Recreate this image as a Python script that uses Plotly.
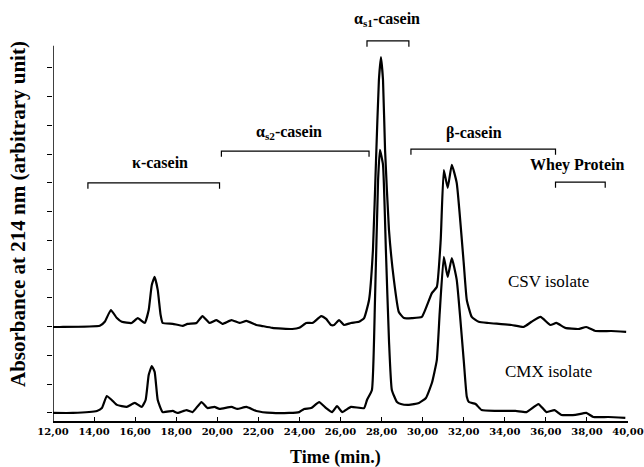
import plotly.graph_objects as go

# Retention time (min) and absorbance (arbitrary units, as plotted with vertical offset)
csv_time = [12.0, 12.34, 14.28, 14.52, 14.82, 15.11, 15.35, 15.83, 16.13, 16.47, 16.66, 16.81, 16.95,
            17.10, 17.24, 17.34, 17.83, 18.31, 18.55, 18.99, 19.28, 19.62, 19.96, 20.25, 20.69, 21.08,
            21.42, 21.90, 22.15, 22.68, 23.65, 23.99, 24.33, 24.62, 24.72, 25.06, 25.30, 25.54, 25.69,
            25.93, 26.17, 26.51, 26.90, 27.15, 27.39, 27.58, 27.73, 27.87, 27.97, 28.07, 28.17, 28.36,
            28.60, 28.84, 29.09, 29.48, 29.96, 30.45, 30.69, 30.88, 31.03, 31.22, 31.42, 31.66, 32.00,
            32.15, 32.39, 32.73, 33.21, 34.33, 34.91, 35.30, 35.74, 36.22, 36.51, 36.95, 37.58, 37.97,
            38.41, 39.18, 39.91]
csv_abs = [2.99, 2.99, 3.03, 3.17, 3.58, 3.30, 3.17, 3.13, 3.30, 3.13, 3.58, 4.45, 4.73,
           4.28, 3.41, 3.13, 3.10, 3.03, 3.10, 3.13, 3.37, 3.13, 3.23, 3.10, 3.23, 3.13,
           3.20, 3.06, 3.03, 2.96, 2.92, 2.96, 3.13, 3.13, 3.17, 3.37, 3.27, 3.06, 3.06,
           3.23, 3.06, 3.13, 3.17, 3.30, 3.93, 5.67, 8.80, 11.58, 12.38, 11.58, 9.15, 6.37,
           4.63, 3.51, 3.30, 3.30, 3.34, 4.17, 4.38, 6.02, 8.45, 7.83, 8.63, 8.00, 5.22,
           3.93, 3.34, 3.17, 3.13, 3.06, 2.99, 3.17, 3.34, 3.06, 3.13, 2.96, 2.92, 2.99,
           2.85, 2.85, 2.82]

cmx_time = [12.0, 12.97, 14.14, 14.38, 14.62, 14.86, 15.11, 15.59, 15.98, 16.32, 16.51, 16.66, 16.81,
            16.95, 17.10, 17.34, 17.83, 18.07, 18.50, 18.80, 19.23, 19.52, 19.86, 20.11, 20.69, 20.98,
            21.42, 21.90, 22.68, 23.50, 23.99, 24.23, 24.57, 24.96, 25.30, 25.59, 25.83, 26.08, 26.51,
            27.15, 27.29, 27.53, 27.68, 27.83, 27.92, 28.07, 28.21, 28.36, 28.50, 28.75, 28.94, 29.33,
            29.82, 30.16, 30.45, 30.69, 30.83, 31.03, 31.22, 31.42, 31.66, 32.00, 32.15, 32.25, 32.58,
            32.87, 33.55, 34.52, 35.06, 35.64, 36.03, 36.42, 36.76, 37.44, 37.97, 38.31, 39.04, 39.87]
cmx_abs = [0.0, 0.0, 0.07, 0.17, 0.59, 0.45, 0.28, 0.21, 0.35, 0.21, 0.45, 1.32, 1.63,
           1.43, 0.45, 0.03, 0.07, 0.0, 0.10, 0.03, 0.38, 0.17, 0.21, 0.14, 0.21, 0.14,
           0.21, 0.07, 0.0, 0.0, 0.03, 0.14, 0.17, 0.38, 0.17, 0.03, 0.24, 0.03, 0.21,
           0.17, 0.45, 0.80, 3.93, 8.10, 9.15, 8.63, 5.67, 2.54, 0.80, 0.38, 0.31, 0.28,
           0.35, 0.52, 1.04, 1.84, 3.48, 5.43, 4.73, 5.39, 4.63, 1.84, 0.56, 0.38, 0.31,
           0.10, 0.07, 0.07, 0.03, 0.31, 0.03, 0.10, -0.07, -0.07, 0.0, -0.14, -0.14, -0.17]

x_tick_vals = [12, 14, 16, 18, 20, 22, 24, 26, 28, 30, 32, 34, 36, 38, 40]
x_tick_text = ["12,00", "14,00", "16,00", "18,00", "20,00", "22,00", "24,00", "26,00",
               "28,00", "30,00", "32,00", "34,00", "36,00", "38,00", "40,00"]
y_tick_vals = list(range(0, 13))

# Protein-fraction labels: text, text position, bracket start/end time, bracket level
fraction_labels = ["κ-casein", "α<sub>s2</sub>-casein", "α<sub>s1</sub>-casein", "β-casein", "Whey Protein"]
label_x = [17.19, 23.50, 28.26, 32.49, 37.53]
label_y = [8.70, 9.74, 13.70, 9.74, 8.63]
bracket_x0 = [13.70, 20.20, 27.29, 29.43, 36.47]
bracket_x1 = [20.11, 27.39, 29.33, 36.47, 38.89]
bracket_y = [8.00, 9.11, 12.94, 9.18, 8.03]
bracket_drop = 0.2

sample_labels = ["CSV isolate", "CMX isolate"]
sample_x = [36.13, 36.13]
sample_y = [4.56, 1.43]

SERIF = "Liberation Serif"

fig = go.Figure()
for t, a in [(csv_time, csv_abs), (cmx_time, cmx_abs)]:
    fig.add_trace(go.Scatter(x=t, y=a, mode="lines",
                             line=dict(color="black", width=2.2, shape="spline", smoothing=0.4),
                             showlegend=False, hoverinfo="skip"))

shapes = []
# y-axis spine
shapes.append(dict(type="line", xref="x", yref="y", x0=12, x1=12, y0=-0.28, y1=12.77,
                   line=dict(color="black", width=1.5)))
for x0, x1, yb in zip(bracket_x0, bracket_x1, bracket_y):
    shapes.append(dict(type="path", xref="x", yref="y",
                       path=f"M {x0},{yb - bracket_drop} L {x0},{yb} L {x1},{yb} L {x1},{yb - bracket_drop}",
                       line=dict(color="black", width=1.2)))

annotations = []
for txt, x, y in zip(fraction_labels, label_x, label_y):
    annotations.append(dict(text=f"<b>{txt}</b>", x=x, y=y, xref="x", yref="y", showarrow=False,
                            font=dict(family=SERIF, size=16, color="black")))
for txt, x, y in zip(sample_labels, sample_x, sample_y):
    annotations.append(dict(text=txt, x=x, y=y, xref="x", yref="y", showarrow=False,
                            font=dict(family=SERIF, size=17, color="black")))
annotations.append(dict(text="<b>Absorbance at 214 nm (arbitrary unit)</b>", x=0, xref="paper",
                        xanchor="center", xshift=-35, y=6.92, yref="y", textangle=-90,
                        showarrow=False, font=dict(family=SERIF, size=21, color="black")))
annotations.append(dict(text="<b>Time (min.)</b>", x=0.492, xref="paper", y=0, yref="paper",
                        yanchor="top", yshift=-24, showarrow=False,
                        font=dict(family=SERIF, size=18, color="black")))

fig.update_layout(
    width=644, height=467,
    margin=dict(l=53, r=16, t=5, b=46, autoexpand=False),
    paper_bgcolor="white", plot_bgcolor="white",
    shapes=shapes, annotations=annotations,
    xaxis=dict(range=[12, 40], tickvals=x_tick_vals, ticktext=x_tick_text,
               ticks="inside", ticklen=4, tickcolor="black", tickwidth=1,
               ticklabeloverflow="allow", automargin=False,
               showline=True, linecolor="black", linewidth=1.5, showgrid=False, zeroline=False,
               tickfont=dict(family="DejaVu Serif", size=10, color="black", weight="bold")),
    yaxis=dict(range=[-0.28, 14.19], tickvals=y_tick_vals, showticklabels=False,
               ticks="outside", ticklen=5, tickcolor="black", tickwidth=1, automargin=False,
               showline=False, showgrid=False, zeroline=False),
)

fig.write_html("out.html")
